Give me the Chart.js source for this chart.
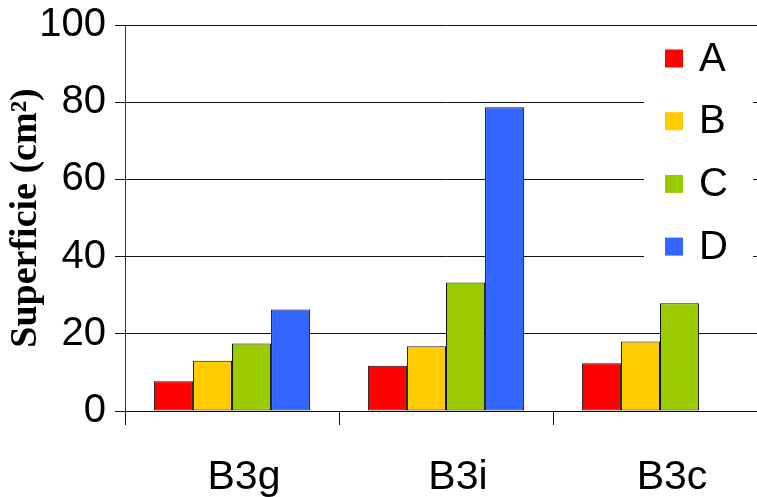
<!DOCTYPE html>
<html lang="fr">
<head>
    <meta charset="UTF-8">
    <title>Superficie</title>
    <script src="https://cdn.jsdelivr.net/npm/chart.js"></script>
    <style>
        html, body { margin: 0; padding: 0; background: #fff; overflow: hidden; }
        /* plot runs past the right edge in the original, so the canvas is a bit wider than the window */
        #wrap { width: 767px; height: 497px; position: relative; }
    </style>
</head>
<body>
    <div id="wrap"><canvas id="chart"></canvas></div>

    <script>
        // data
        const categories = ['B3g', 'B3i', 'B3c'];
        const seriesA = [7.7, 11.7, 12.4];
        const seriesB = [13.0, 16.8, 18.0];
        const seriesC = [17.5, 33.3, 27.9];
        const seriesD = [26.3, 78.7, null];
        const seriesNames = ['A', 'B', 'C', 'D'];
        const yTicks = [0, 20, 40, 60, 80, 100];

        const colors = ['#FF0000', '#FFCC00', '#99CC00', '#3366FF'];
        const sans = "'Liberation Sans', Arial, sans-serif";

        // legend box drawn over the grid, like the original
        const boxLegend = {
            id: 'boxLegend',
            afterDraw(chart) {
                const ctx = chart.ctx;
                ctx.save();
                ctx.fillStyle = '#fff';
                ctx.fillRect(644, 27, 109, 236);
                ctx.font = '40px ' + sans;
                ctx.textBaseline = 'middle';
                ctx.textAlign = 'left';
                chart.data.datasets.forEach((ds, i) => {
                    const cy = 58.5 + i * 62.7;
                    ctx.fillStyle = ds.backgroundColor;
                    ctx.fillRect(665, cy - 9, 18, 18);
                    ctx.fillStyle = '#000';
                    ctx.fillText(ds.label, 699, cy + 1);
                });
                ctx.restore();
            }
        };

        const allSeries = [seriesA, seriesB, seriesC, seriesD];

        new Chart(document.getElementById('chart'), {
            type: 'bar',
            data: {
                labels: categories,
                datasets: allSeries.map((s, i) => ({
                    label: seriesNames[i],
                    data: s,
                    backgroundColor: colors[i],
                    borderColor: '#111',
                    borderWidth: 1,
                    borderSkipped: false,
                    barPercentage: 1,
                    categoryPercentage: 0.73
                }))
            },
            options: {
                responsive: true,
                maintainAspectRatio: false,
                animation: false,
                layout: { padding: { top: 25, right: 0, left: 0, bottom: 0 } },
                plugins: {
                    legend: { display: false },
                    tooltip: { enabled: false }
                },
                scales: {
                    x: {
                        offset: true,
                        grid: { offset: true, drawOnChartArea: false, drawTicks: true, tickLength: 14, color: '#111' },
                        border: { display: true, color: '#111' },
                        ticks: { color: '#000', font: { family: sans, size: 41 }, padding: 28, labelOffset: 12 },
                        afterFit(scale) { scale.height = 86; }
                    },
                    y: {
                        min: 0,
                        max: 100,
                        afterBuildTicks(scale) { scale.ticks = yTicks.map(v => ({ value: v })); },
                        grid: { color: '#111', tickLength: 10 },
                        border: { display: true, color: '#333' },
                        ticks: { color: '#000', font: { family: sans, size: 40 }, padding: 9 },
                        title: {
                            display: true,
                            text: 'Superficie (cm²)',
                            color: '#000',
                            font: { family: "'Liberation Serif', 'Times New Roman', serif", size: 38, weight: 'bold' },
                            padding: { top: 3, bottom: 0 }
                        },
                        afterFit(scale) {
                            scale.width = 125;
                            scale.paddingTop = 0;
                            scale.paddingBottom = 0;
                        }
                    }
                }
            },
            plugins: [boxLegend]
        });
    </script>
</body>
</html>
